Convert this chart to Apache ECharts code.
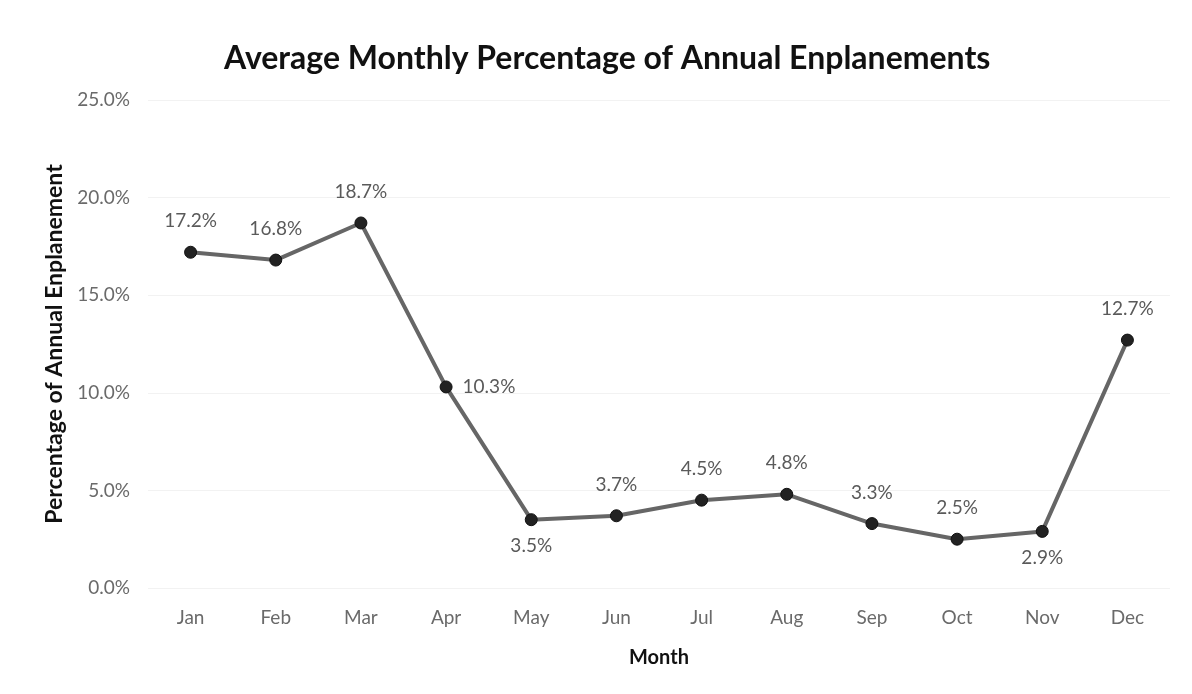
<!DOCTYPE html>
<html>
<head>
<meta charset="utf-8">
<script src="https://cdn.jsdelivr.net/npm/echarts@6/dist/echarts.min.js"></script>
<style>html,body{margin:0;padding:0;background:#fff}#c{width:1192px;height:694px}</style>
</head>
<body>
<div id="c"></div>
<script>
const months = ['Jan','Feb','Mar','Apr','May','Jun','Jul','Aug','Sep','Oct','Nov','Dec'];
const values = [17.2, 16.8, 18.7, 10.3, 3.5, 3.7, 4.5, 4.8, 3.3, 2.5, 2.9, 12.7];
const labelPositions = ['top','top','top','right','bottom','top','top','top','top','top','bottom','top'];

const chart = echarts.init(document.getElementById('c'), null, {renderer:'canvas'});
const FONT = 'Lato';
chart.setOption({
  animation: false,
  backgroundColor: '#fff',
  title: {
    text: 'Average Monthly Percentage of Annual Enplanements',
    left: 219, top: 38,
    textStyle: {fontFamily: FONT, fontSize: 32, fontWeight: 'bold', color: '#111'}
  },
  grid: {left: 148, right: 22, top: 100, bottom: 106},
  xAxis: {
    type: 'category', data: months, boundaryGap: true,
    name: 'Month', nameLocation: 'middle', nameGap: 60,
    nameTextStyle: {fontFamily: FONT, fontSize: 20, fontWeight: 'bold', color: '#111'},
    axisLine: {show: false}, axisTick: {show: false},
    axisLabel: {fontFamily: FONT, fontSize: 19, color: '#6a6a6a', margin: 20}
  },
  yAxis: {
    type: 'value', min: 0, max: 25, interval: 5,
    name: 'Percentage of Annual Enplanement', nameLocation: 'middle', nameGap: 81,
    nameTextStyle: {fontFamily: FONT, fontSize: 23, fontWeight: 'bold', color: '#111'},
    axisLine: {show: false}, axisTick: {show: false},
    axisLabel: {fontFamily: FONT, fontSize: 19, color: '#6a6a6a', margin: 18,
      formatter: v => v.toFixed(1) + '%'},
    splitLine: {lineStyle: {color: '#f2f2f2', width: 1}}
  },
  series: [{
    type: 'line', data: values.map((v, i) => ({value: v, label: {position: labelPositions[i], distance: labelPositions[i] === 'top' ? 15 : 10}})),
    symbol: 'circle', symbolSize: 12,
    lineStyle: {color: '#666', width: 4},
    itemStyle: {color: '#222', borderColor: '#111', borderWidth: 1},
    label: {show: true, fontFamily: FONT, fontSize: 19, color: '#5a5a5a',
      formatter: p => p.value.toFixed(1) + '%'}
  }]
});
</script>
</body>
</html>
